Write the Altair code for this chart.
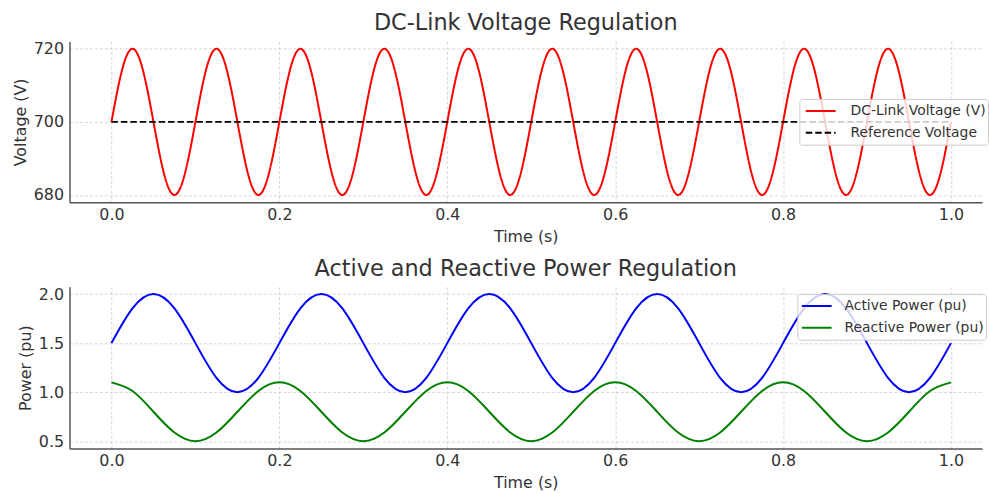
import altair as alt
import pandas as pd

FONT = "DejaVu Sans"
TXT = "#333333"

# ---- data ----
# DC-link voltage, sampled every 0.0125 s (8 samples per 0.1 s period)
V_STEP = 0.0125
voltage = [
    700.0, 714.1, 720.0, 714.1, 700.0, 685.9, 680.0, 685.9,
    700.0, 714.1, 720.0, 714.1, 700.0, 685.9, 680.0, 685.9,
    700.0, 714.1, 720.0, 714.1, 700.0, 685.9, 680.0, 685.9,
    700.0, 714.1, 720.0, 714.1, 700.0, 685.9, 680.0, 685.9,
    700.0, 714.1, 720.0, 714.1, 700.0, 685.9, 680.0, 685.9,
    700.0, 714.1, 720.0, 714.1, 700.0, 685.9, 680.0, 685.9,
    700.0, 714.1, 720.0, 714.1, 700.0, 685.9, 680.0, 685.9,
    700.0, 714.1, 720.0, 714.1, 700.0, 685.9, 680.0, 685.9,
    700.0, 714.1, 720.0, 714.1, 700.0, 685.9, 680.0, 685.9,
    700.0, 714.1, 720.0, 714.1, 700.0, 685.9, 680.0, 685.9,
    700.0,
]
ref_t = [0.0, 1.0]
ref_voltage = [700.0, 700.0]

# Powers, sampled every 0.025 s (8 samples per 0.2 s period)
P_STEP = 0.025
active = [
    1.5, 1.854, 2.0, 1.854, 1.5, 1.146, 1.0, 1.146,
    1.5, 1.854, 2.0, 1.854, 1.5, 1.146, 1.0, 1.146,
    1.5, 1.854, 2.0, 1.854, 1.5, 1.146, 1.0, 1.146,
    1.5, 1.854, 2.0, 1.854, 1.5, 1.146, 1.0, 1.146,
    1.5, 1.854, 2.0, 1.854, 1.5, 1.146, 1.0, 1.146,
    1.5,
]
reactive = [
    1.1, 1.012, 0.8, 0.588, 0.5, 0.588, 0.8, 1.012,
    1.1, 1.012, 0.8, 0.588, 0.5, 0.588, 0.8, 1.012,
    1.1, 1.012, 0.8, 0.588, 0.5, 0.588, 0.8, 1.012,
    1.1, 1.012, 0.8, 0.588, 0.5, 0.588, 0.8, 1.012,
    1.1, 1.012, 0.8, 0.588, 0.5, 0.588, 0.8, 1.012,
    1.1,
]

x_ticks = [0.0, 0.2, 0.4, 0.6, 0.8, 1.0]
v_ticks = [680, 700, 720]
p_ticks = [0.5, 1.0, 1.5, 2.0]

top_series = ["DC-Link Voltage (V)", "Reference Voltage"]
top_colors = ["#ff0000", "#000000"]
bot_series = ["Active Power (pu)", "Reactive Power (pu)"]
bot_colors = ["#0000ff", "#008000"]

t_v = [round(i * V_STEP, 4) for i in range(len(voltage))]
t_p = [round(i * P_STEP, 4) for i in range(len(active))]

df_top = pd.concat([
    pd.DataFrame({"t": t_v, "value": voltage, "series": top_series[0]}),
    pd.DataFrame({"t": ref_t, "value": ref_voltage, "series": top_series[1]}),
])
df_bot = pd.concat([
    pd.DataFrame({"t": t_p, "value": active, "series": bot_series[0]}),
    pd.DataFrame({"t": t_p, "value": reactive, "series": bot_series[1]}),
])

W = 919
X_DOMAIN = [-0.05, 1.037]


def x_enc():
    return alt.X(
        "t:Q",
        scale=alt.Scale(domain=X_DOMAIN, nice=False, zero=False),
        axis=alt.Axis(values=x_ticks, format=".1f", title="Time (s)"),
    )


def legend(x, y, sym_off, lab_off):
    return alt.Legend(
        title=None, orient="none", legendX=x, legendY=y,
        fillColor="rgba(255,255,255,0.8)", strokeColor="#cccccc",
        cornerRadius=3, padding=2, symbolType="stroke",
        symbolSize=900, symbolStrokeWidth=2, symbolOffset=sym_off,
        clipHeight=20, labelFontSize=14,
        labelFont=FONT, labelColor=TXT, labelOffset=lab_off, rowPadding=2,
    )


top = alt.Chart(df_top).mark_line(strokeWidth=2, interpolate="natural").encode(
    x=x_enc(),
    y=alt.Y(
        "value:Q",
        scale=alt.Scale(domain=[678, 722], nice=False, zero=False),
        axis=alt.Axis(values=v_ticks, title="Voltage (V)"),
    ),
    color=alt.Color("series:N", scale=alt.Scale(domain=top_series, range=top_colors),
                    legend=legend(735, 58, 3.5, 14)),
    strokeDash=alt.StrokeDash("series:N",
                              scale=alt.Scale(domain=top_series, range=[[1, 0], [6.5, 3]]),
                              legend=legend(735, 58, 3.5, 14)),
).properties(width=W, height=162, title="DC-Link Voltage Regulation")

bot = alt.Chart(df_bot).mark_line(strokeWidth=2, interpolate="natural").encode(
    x=x_enc(),
    y=alt.Y(
        "value:Q",
        scale=alt.Scale(domain=[0.425, 2.075], nice=False, zero=False),
        axis=alt.Axis(values=p_ticks, format=".1f", title="Power (pu)"),
    ),
    color=alt.Color("series:N", scale=alt.Scale(domain=bot_series, range=bot_colors),
                    legend=legend(733, 7.4, 1.5, 12)),
).properties(width=W, height=163, title="Active and Reactive Power Regulation")

chart = alt.vconcat(top, bot, spacing=13).resolve_scale(
    color="independent", strokeDash="independent"
).properties(
    padding={"left": 12, "top": 10, "right": 0, "bottom": 0}
).configure_view(stroke=None).configure_axis(
    labelFont=FONT, titleFont=FONT, labelFontSize=16, titleFontSize=16,
    labelColor=TXT, titleColor=TXT, titleFontWeight="normal",
    domainColor="#555555", domainWidth=1.5, ticks=False,
    gridColor="#cccccc", gridDash=[3, 2], gridWidth=0.8,
).configure_axisX(labelPadding=4, titlePadding=6).configure_axisY(
    labelPadding=6, titlePadding=5
).configure_title(
    font=FONT, fontSize=22.5, fontWeight="normal", color=TXT, anchor="middle", offset=6
)

chart.save("out.html", embed_options={"renderer": "svg", "actions": False})
